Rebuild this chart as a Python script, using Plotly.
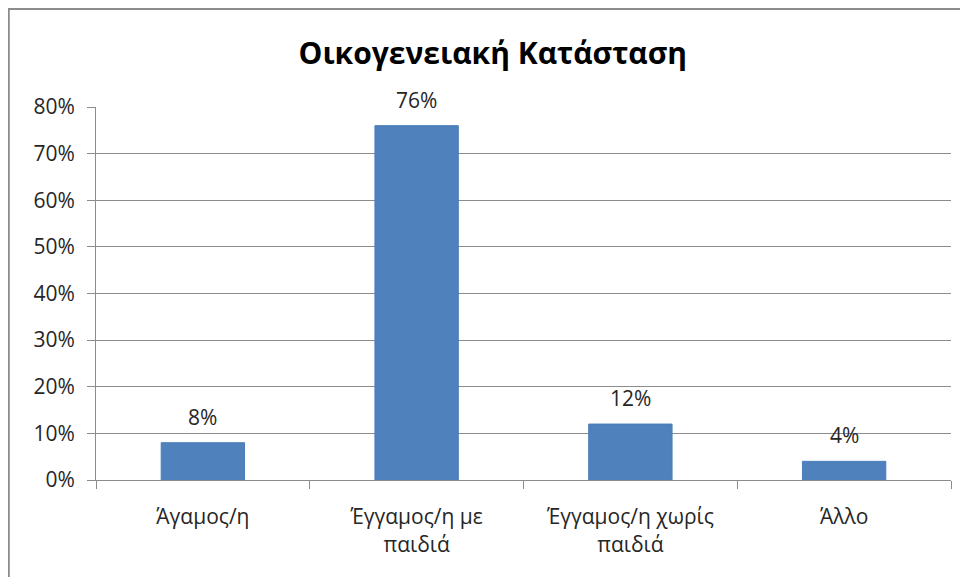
import plotly.graph_objects as go

# data
categories = ['Άγαμος/η', 'Έγγαμος/η με<br>παιδιά', 'Έγγαμος/η χωρίς<br>παιδιά', 'Άλλο']
shares = [0.08, 0.76, 0.12, 0.04]
labels = ['8%', '76%', '12%', '4%']

FONT = 'Open Sans'
TEXT = '#262626'
GREY = '#8C8C8C'

fig = go.Figure()
fig.add_trace(go.Bar(
    x = categories,
    y = shares,
    marker = dict(color='#4F81BD', line=dict(color='#4A7EBB', width=1)),
    hoverinfo = 'skip'
))

# data labels sit a little above each bar, Excel style
for cat, val, lab in zip(categories, shares, labels):
    fig.add_annotation(
        x = cat, y = val, text = lab,
        showarrow = False, yanchor = 'bottom', yshift = 10,
        font = dict(family=FONT, size=21, color=TEXT)
    )

# page body adds an 8px offset, so the figure is 8px smaller than the window
fig.update_layout(
    width = 960,
    height = 569,
    margin = dict(l=88, r=17, t=99, b=97),
    paper_bgcolor = 'white',
    plot_bgcolor = 'white',
    bargap = 0.61,
    showlegend = False,
    title = dict(
        text = '<b>Οικογενειακή Κατάσταση</b>',
        x = 0.505,
        xanchor = 'center',
        y = 0.92,
        yanchor = 'middle',
        font = dict(family=FONT, size=30, color='black')
    ),
    font = dict(family=FONT, size=21, color=TEXT),
    # chart frame (only left/top edges are visible)
    shapes = [dict(
        type = 'rect', xref = 'paper', yref = 'paper',
        x0 = -0.102, x1 = 1.05, y0 = -0.4, y1 = 1.263,
        line = dict(color=GREY, width=2),
        fillcolor = 'rgba(0,0,0,0)', layer = 'below'
    )]
)
fig.update_yaxes(
    range = [0, 0.8],
    dtick = 0.1,
    tickformat = '.0%',
    showgrid = True,
    gridcolor = GREY,
    gridwidth = 1,
    showline = True,
    linecolor = GREY,
    ticks = 'outside',
    ticklen = 8,
    tickcolor = GREY,
    ticklabelstandoff = 8,
    zeroline = False,
    tickfont = dict(family=FONT, size=21, color=TEXT)
)
fig.update_xaxes(
    showline = True,
    linecolor = GREY,
    ticks = 'outside',
    tickson = 'boundaries',
    ticklen = 8,
    tickcolor = GREY,
    ticklabelstandoff = 18,
    tickfont = dict(family=FONT, size=21, color=TEXT)
)

fig.write_html('out.html')
